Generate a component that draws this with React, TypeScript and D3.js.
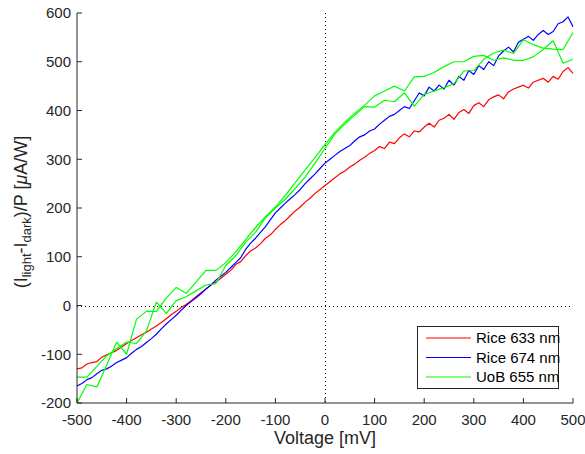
import React from "react";
import * as d3 from "d3";

const voltStep10: number[] = d3.range(-500, 501, 10);
const voltStep20: number[] = d3.range(-500, 501, 20);

const rice633: number[] = [
  -130, -128, -120, -117, -115, -106, -101, -97, -92, -85,
  -78, -72, -66, -60, -55, -48, -42, -35, -27, -19,
  -12, -4, 2, 10, 18, 26, 34, 42, 48, 56,
  64, 72, 84, 90, 102, 112, 118, 127, 138, 145,
  156, 166, 174, 184, 194, 202, 212, 220, 230, 238,
  246, 254, 262, 270, 276, 284, 290, 298, 304, 312,
  318, 326, 322, 335, 332, 344, 352, 346, 358, 356,
  366, 374, 366, 380, 384, 392, 382, 396, 402, 394,
  410, 416, 408, 422, 428, 432, 424, 438, 444, 448,
  452, 446, 458, 462, 466, 458, 470, 464, 480, 488,
  476,
];

const rice674: number[] = [
  -165, -160, -152, -148, -140, -133, -130, -124, -117, -112,
  -107, -98, -90, -84, -76, -68, -59, -48, -38, -29,
  -20, -10, 0, 8, 16, 24, 34, 42, 52, 60,
  68, 78, 88, 98, 115, 128, 138, 150, 162, 176,
  190, 200, 210, 219, 228, 238, 250, 260, 270, 281,
  292, 300, 308, 316, 322, 328, 338, 346, 350, 358,
  362, 372, 380, 388, 392, 400, 408, 404, 420, 436,
  430, 448, 440, 452, 444, 462, 452, 470, 462, 482,
  474, 492, 484, 500, 492, 512, 522, 530, 520, 540,
  546, 552, 544, 556, 564, 556, 562, 578, 582, 592,
  572,
];

const uob655Up: number[] = [
  -200, -162, -167, -122, -75, -100, -28, -12, -12, 15,
  37, 25, 48, 72, 72, 88, 110, 135, 160, 182,
  202, 226, 252, 278, 304, 330, 355, 376, 394, 411,
  430, 440, 450, 440, 469, 470, 478, 490, 500, 500,
  511, 513, 503, 508, 503, 503, 510, 525, 543, 497,
  505,
];

const uob655Down: number[] = [
  -147, -147, -125, -103, -88, -75, -78, -52, 7, -16,
  10, 18, 30, 42, 45, 82, 102, 130, 150, 180,
  200, 218, 240, 264, 292, 322, 352, 372, 390, 408,
  407, 421, 418, 436, 409, 433, 440, 447, 455, 481,
  482, 505, 518, 524, 517, 545, 535, 528, 526, 525,
  560,
];

const xTicks: number[] = [-500, -400, -300, -200, -100, 0, 100, 200, 300, 400, 500];
const yTicks: number[] = [-200, -100, 0, 100, 200, 300, 400, 500, 600];

const legendLabels: string[] = ["Rice 633 nm", "Rice 674 nm", "UoB 655 nm"];
const legendColors: string[] = ["#ff0000", "#0000ff", "#00ff00"];

const W = 585;
const H = 454;
const left = 77;
const right = 573;
const top = 13;
const bottom = 403;
const FONT = "Arial, 'Liberation Sans', Helvetica, sans-serif";
const AX = "#262626";

export default function App() {
  const x = d3.scaleLinear().domain([-500, 500]).range([left, right]);
  const y = d3.scaleLinear().domain([-200, 600]).range([bottom, top]);
  const line = d3
    .line<[number, number]>()
    .x((d) => x(d[0]))
    .y((d) => y(d[1]));

  const series = [
    { pts: voltStep10.map((v, i) => [v, rice633[i]] as [number, number]), color: legendColors[0] },
    { pts: voltStep10.map((v, i) => [v, rice674[i]] as [number, number]), color: legendColors[1] },
    { pts: voltStep20.map((v, i) => [v, uob655Up[i]] as [number, number]), color: legendColors[2] },
    { pts: voltStep20.map((v, i) => [v, uob655Down[i]] as [number, number]), color: legendColors[2] },
  ];

  const lgX = 417;
  const lgY = 326;
  const lgW = 141;
  const lgH = 62;

  return (
    <svg
      width={W}
      height={H}
      style={{ position: "absolute", left: 0, top: 0, background: "#fff" }}
      fontFamily={FONT}
    >
      <rect x={0} y={0} width={W} height={H} fill="#fff" />
      <line x1={x(-500)} x2={x(500)} y1={Math.round(y(0)) + 0.5} y2={Math.round(y(0)) + 0.5} stroke="#000" strokeWidth={1} strokeDasharray="1,3" />
      <line x1={Math.round(x(0)) + 0.5} x2={Math.round(x(0)) + 0.5} y1={y(600)} y2={y(-200)} stroke="#000" strokeWidth={1} strokeDasharray="1,3" />

      <defs>
        <clipPath id="clip">
          <rect x={left} y={top - 2} width={right - left + 2} height={bottom - top + 2} />
        </clipPath>
      </defs>
      <g clipPath="url(#clip)">
        {series.map((s, i) => (
          <path key={i} d={line(s.pts) || ""} fill="none" stroke={s.color} strokeWidth={1.2} strokeLinejoin="round" />
        ))}
      </g>

      <line x1={left} x2={left} y1={top} y2={bottom} stroke={AX} strokeWidth={1} />
      <line x1={left} x2={right} y1={bottom} y2={bottom} stroke={AX} strokeWidth={1} />
      {yTicks.map((t) => (
        <g key={"y" + t}>
          <line x1={left} x2={left + 5} y1={y(t)} y2={y(t)} stroke={AX} strokeWidth={1} />
          <text x={left - 6} y={y(t)} dy="0.35em" textAnchor="end" fontSize={15} fill={AX}>
            {t}
          </text>
        </g>
      ))}
      {xTicks.map((t) => (
        <g key={"x" + t}>
          <line x1={x(t)} x2={x(t)} y1={bottom} y2={bottom - 5} stroke={AX} strokeWidth={1} />
          <text x={x(t)} y={bottom + 22} textAnchor="middle" fontSize={15} fill={AX}>
            {t}
          </text>
        </g>
      ))}

      <text x={(left + right) / 2} y={444} textAnchor="middle" fontSize={18} fill={AX}>
        Voltage [mV]
      </text>

      <text transform={`translate(27, 212) rotate(-90)`} textAnchor="middle" fontSize={18} fill={AX}>
        <tspan>(I</tspan>
        <tspan fontSize={13} dy={4}>light</tspan>
        <tspan dy={-4}>-I</tspan>
        <tspan fontSize={13} dy={4}>dark</tspan>
        <tspan dy={-4}>)/P [</tspan>
        <tspan fontStyle="italic">μ</tspan>
        <tspan>A/W]</tspan>
      </text>

      <rect x={lgX + 0.5} y={lgY + 0.5} width={lgW} height={lgH} fill="#fff" stroke={AX} strokeWidth={1} />
      {legendLabels.map((lab, i) => {
        const ly = lgY + 12 + i * 19.5;
        return (
          <g key={lab}>
            <line x1={lgX + 9} x2={lgX + 54} y1={ly} y2={ly} stroke={legendColors[i]} strokeWidth={1.2} />
            <text x={lgX + 59} y={ly} dy="0.35em" fontSize={15} fill="#000">
              {lab}
            </text>
          </g>
        );
      })}
    </svg>
  );
}
